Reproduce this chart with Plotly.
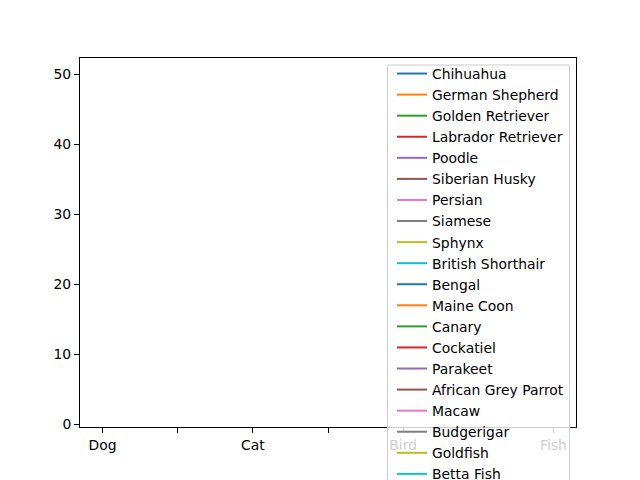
import plotly.graph_objects as go

categories = ["Dog", "Cat", "Bird", "Fish"]
breeds = ["Chihuahua", "German Shepherd", "Golden Retriever", "Labrador Retriever",
          "Poodle", "Siberian Husky", "Persian", "Siamese", "Sphynx",
          "British Shorthair", "Bengal", "Maine Coon", "Canary", "Cockatiel",
          "Parakeet", "African Grey Parrot", "Macaw", "Budgerigar", "Goldfish",
          "Betta Fish"]
species = ["Dog"] * 6 + ["Cat"] * 6 + ["Bird"] * 6 + ["Fish"] * 2
values = [14, 11, 11, 12, 13, 13, 14, 15, 12, 13, 14, 13, 10, 18, 8, 50, 45, 7, 10, 2]

tick_vals = [0, 0.5, 1, 1.5, 2, 2.5, 3]
tick_text = ["Dog", "", "Cat", "", "Bird", "", "Fish"]
y_ticks = [0, 10, 20, 30, 40, 50]

colors = ["#1f77b4", "#ff7f0e", "#2ca02c", "#d62728", "#9467bd",
          "#8c564b", "#e377c2", "#7f7f7f", "#bcbd22", "#17becf"]

FONT = "DejaVu Sans"
W, H = 640, 480
L, R, T, B = 80, 64, 58, 53
pw, ph = W - L - R, H - T - B

def px_x(x):
    return (x - L) / pw

def px_y(y):
    return (H - B - y) / ph

fig = go.Figure()
for i, (name, sp, v) in enumerate(zip(breeds, species, values)):
    fig.add_trace(go.Scatter(
        x=[categories.index(sp)], y=[v], mode="lines", name=name,
        line=dict(color=colors[i % len(colors)], width=2),
    ))

axis_common = dict(
    showgrid=False, zeroline=False, showline=True, linecolor="black",
    linewidth=1, mirror=True, ticks="outside", ticklen=5, tickwidth=1,
    tickcolor="black", tickfont=dict(family=FONT, size=13.9, color="black"),
    automargin=False,
)

# legend frame (semi-transparent white box, extends past the bottom edge)
fig.add_shape(type="rect", xref="paper", yref="paper",
              x0=px_x(387.5), x1=px_x(569.5), y0=px_y(520), y1=px_y(65),
              fillcolor="rgba(255,255,255,0.8)",
              line=dict(color="#cccccc", width=1), layer="above")

fig.update_layout(
    width=W, height=H,
    margin=dict(l=L, r=R, t=T, b=B, pad=0, autoexpand=False),
    paper_bgcolor="white", plot_bgcolor="white",
    font=dict(family=FONT, size=13.9, color="black"),
    xaxis=dict(range=[-0.15, 3.15], tickmode="array", tickvals=tick_vals,
               ticktext=tick_text, **axis_common),
    yaxis=dict(range=[-0.36, 52.36], tickmode="array", tickvals=y_ticks,
               **axis_common),
    showlegend=True,
    legend=dict(x=px_x(392), y=px_y(58), xanchor="left", yanchor="top",
                bgcolor="rgba(0,0,0,0)", borderwidth=0,
                font=dict(family=FONT, size=13.9, color="black"),
                maxheight=700, tracegroupgap=0),
)

fig.write_html("out.html", config={"displayModeBar": False},
               post_script="document.body.style.margin='0';")
